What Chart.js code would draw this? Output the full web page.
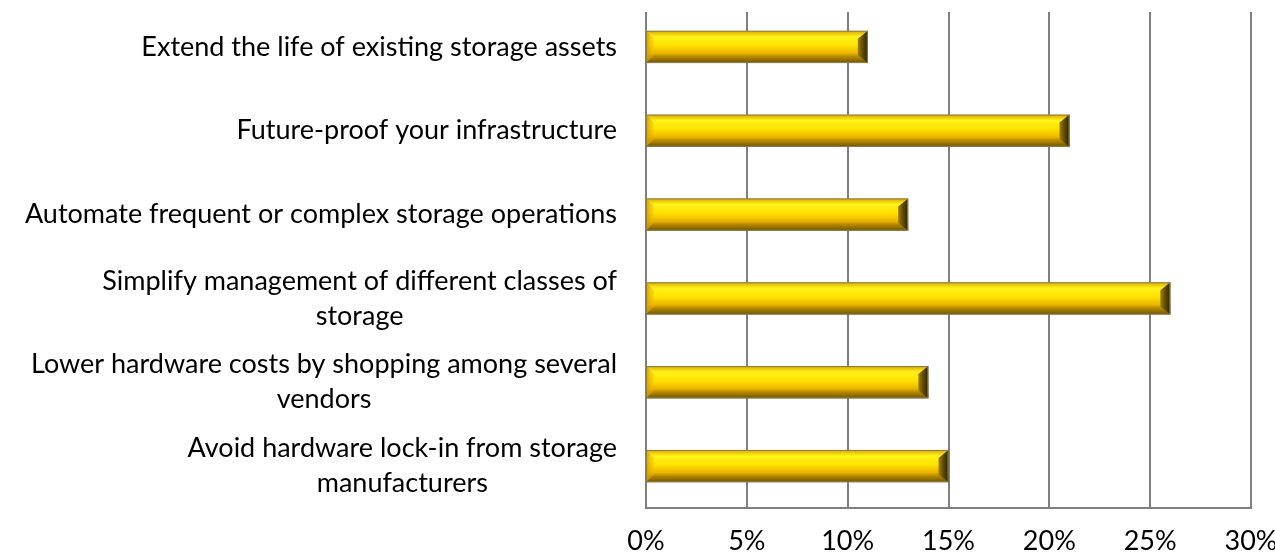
<!DOCTYPE html>
<html>
<head>
<meta charset="utf-8">
<script src="https://cdn.jsdelivr.net/npm/chart.js@4.4.1/dist/chart.umd.min.js"></script>
<style>
  html, body { margin: 0; padding: 0; background: #fff; }
  #wrap { width: 1275px; height: 559px; }
</style>
</head>
<body>
<div id="wrap"><canvas id="chart"></canvas></div>
<script>
const categories = [
  ["Extend the life of existing storage assets"],
  ["Future-proof your infrastructure"],
  ["Automate frequent or complex storage operations"],
  ["Simplify management of different classes of", "storage"],
  ["Lower hardware costs by shopping among several", "vendors"],
  ["Avoid hardware lock-in from storage", "manufacturers"],
];
const shares = [11, 21, 13, 26, 14, 15];
const xTicks = [0, 5, 10, 15, 20, 25, 30];

const FONT = "Lato, 'Open Sans', sans-serif";
const FONT_SIZE = 27;

// vertical gridlines + bottom axis, starting a bit below the plot top like the original
const gridPlugin = {
  id: "grid",
  beforeDatasetsDraw(chart) {
    const { ctx, chartArea, scales } = chart;
    ctx.save();
    ctx.strokeStyle = "#7f7f7f";
    ctx.lineWidth = 2;
    xTicks.forEach((v) => {
      const x = Math.round(scales.x.getPixelForValue(v));
      ctx.beginPath();
      ctx.moveTo(x, chartArea.top + 7);
      ctx.lineTo(x, chartArea.bottom);
      ctx.stroke();
    });
    ctx.beginPath();
    ctx.moveTo(scales.x.getPixelForValue(0) - 1, chartArea.bottom);
    ctx.lineTo(scales.x.getPixelForValue(30) + 1, chartArea.bottom);
    ctx.stroke();
    ctx.restore();
  },
};

// gold bevelled bars, drawn over the (invisible) bar elements
const bevelPlugin = {
  id: "bevel",
  afterDatasetsDraw(chart) {
    const ctx = chart.ctx;
    chart.getDatasetMeta(0).data.forEach((bar) => {
      const L = Math.min(bar.base, bar.x);
      const R = Math.max(bar.base, bar.x);
      const T = bar.y - bar.height / 2;
      const B = bar.y + bar.height / 2;
      const b = 8;
      ctx.save();
      const g = ctx.createLinearGradient(0, T, 0, B);
      g.addColorStop(0, "#d9a600");
      g.addColorStop(0.18, "#fff21a");
      g.addColorStop(0.45, "#ffe200");
      g.addColorStop(0.7, "#eab400");
      g.addColorStop(0.8, "#b88a00");
      g.addColorStop(1, "#6e5400");
      ctx.fillStyle = g;
      ctx.fillRect(L, T, R - L, B - T);

      // left bevel
      const gl = ctx.createLinearGradient(L, 0, L + b, 0);
      gl.addColorStop(0, "rgba(214,150,0,0.9)");
      gl.addColorStop(1, "rgba(240,190,0,0.3)");
      ctx.fillStyle = gl;
      ctx.beginPath();
      ctx.moveTo(L, T);
      ctx.lineTo(L + b, T + b);
      ctx.lineTo(L + b, B - b);
      ctx.lineTo(L, B);
      ctx.closePath();
      ctx.fill();

      // right bevel
      const gr = ctx.createLinearGradient(R - b - 2, 0, R, 0);
      gr.addColorStop(0, "#a07c00");
      gr.addColorStop(0.5, "#5e4a00");
      gr.addColorStop(1, "#2a2200");
      ctx.fillStyle = gr;
      ctx.beginPath();
      ctx.moveTo(R, T);
      ctx.lineTo(R - b - 2, T + b);
      ctx.lineTo(R - b - 2, B - b);
      ctx.lineTo(R, B);
      ctx.closePath();
      ctx.fill();

      ctx.strokeStyle = "#8c7c50";
      ctx.lineWidth = 1;
      ctx.strokeRect(L + 0.5, T + 0.5, R - L - 1, B - T - 1);
      ctx.restore();
    });
  },
};

// category labels: block right-aligned to the axis, lines centred inside the block
const labelPlugin = {
  id: "ylabels",
  afterDraw(chart) {
    const ctx = chart.ctx;
    const yScale = chart.scales.y;
    const right = chart.chartArea.left - 29;
    const lineH = 35;
    ctx.save();
    ctx.font = FONT_SIZE + "px " + FONT;
    ctx.fillStyle = "#000";
    ctx.textAlign = "center";
    ctx.textBaseline = "middle";
    categories.forEach((lines, i) => {
      const w = Math.max(...lines.map((s) => ctx.measureText(s).width));
      const cx = right - w / 2;
      const cy = yScale.getPixelForTick(i);
      const y0 = cy - ((lines.length - 1) * lineH) / 2;
      lines.forEach((s, j) => ctx.fillText(s, cx, y0 + j * lineH));
    });
    ctx.restore();
  },
};

new Chart(document.getElementById("chart"), {
  type: "bar",
  data: {
    labels: categories,
    datasets: [
      {
        data: shares,
        backgroundColor: "rgba(0,0,0,0)",
        borderWidth: 0,
        barPercentage: 0.385,
        categoryPercentage: 1,
      },
    ],
  },
  options: {
    indexAxis: "y",
    responsive: true,
    maintainAspectRatio: false,
    animation: false,
    layout: { padding: { top: 5, right: 0, left: 0, bottom: 0 } },
    plugins: {
      legend: { display: false },
      tooltip: { enabled: false },
    },
    scales: {
      x: {
        min: 0,
        max: 30,
        ticks: {
          stepSize: 5,
          padding: 17,
          color: "#000",
          font: { family: FONT, size: FONT_SIZE },
          callback: (v) => v + "%",
        },
        grid: { display: false, drawTicks: false },
        border: { display: false },
        afterFit: (scale) => {
          scale.height = 51;
          scale.paddingRight = 24;
        },
      },
      y: {
        ticks: { display: false },
        grid: { display: false, drawTicks: false },
        border: { display: false },
        afterFit: (scale) => {
          scale.width = 646;
        },
      },
    },
  },
  plugins: [gridPlugin, bevelPlugin, labelPlugin],
});
</script>
</body>
</html>
